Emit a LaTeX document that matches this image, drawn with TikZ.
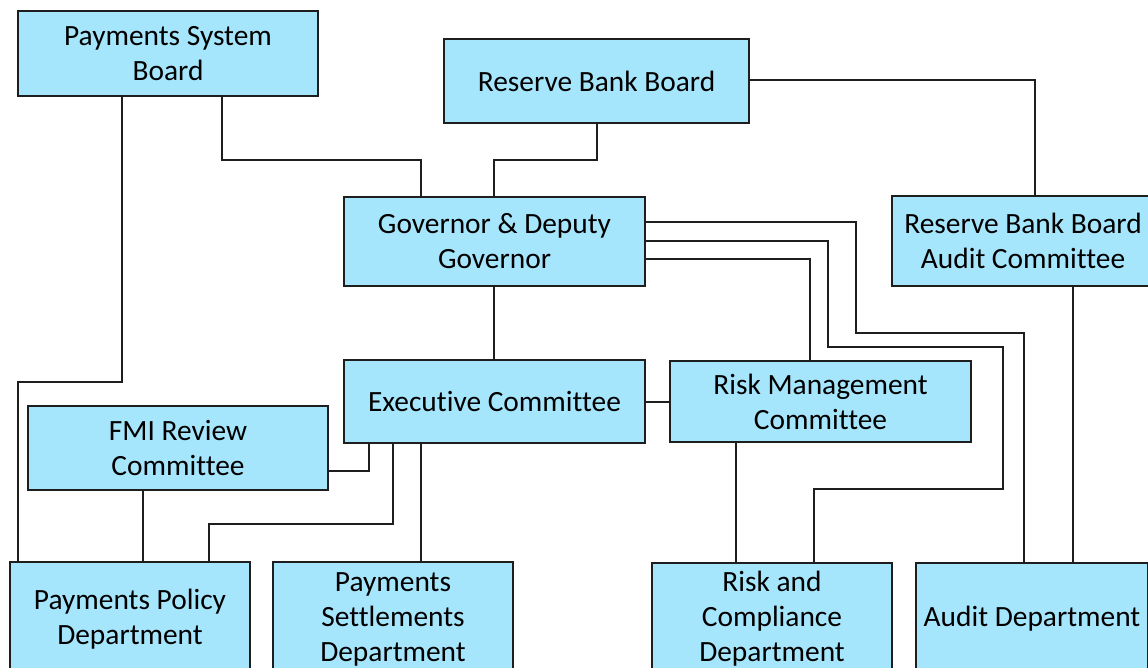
\documentclass[tikz,border=0pt]{standalone}
\usepackage{fontspec}
\setmainfont{Carlito}[Ligatures=NoCommon]
\definecolor{boxfill}{RGB}{166,230,253}
\definecolor{boxline}{RGB}{30,30,30}
\tikzset{
  orgbox/.style={draw=boxline, line width=1.4pt, fill=boxfill, rectangle, align=center,
    inner sep=0pt, font=\fontsize{29.4}{35}\selectfont, text=black},
  conn/.style={draw=boxline, line width=1.3pt}
}
\begin{document}
\begin{tikzpicture}[x=1pt,y=-1pt]
\useasboundingbox (0,0) rectangle (1148,668);
\fill[white] (0,0) rectangle (1148,668);
\clip (0,0) rectangle (1148,668);
% nodes
\node[orgbox, minimum width=300pt, minimum height=85pt] (psb) at (168,53.5) {Payments System\\Board};
\node[orgbox, minimum width=305pt, minimum height=84pt] (rbb) at (596.5,81) {Reserve Bank Board};
\node[orgbox, minimum width=301pt, minimum height=89pt] (gov) at (494.5,241.5) {Governor \& Deputy\\Governor};
\node[orgbox, minimum width=262pt, minimum height=90pt] (rbbac) at (1023,241) {Reserve Bank Board\\Audit Committee};
\node[orgbox, minimum width=301pt, minimum height=83pt] (exec) at (494.5,401.5) {Executive Committee};
\node[orgbox, minimum width=301pt, minimum height=81pt] (rmc) at (820.5,401.5) {Risk Management\\Committee};
\node[orgbox, minimum width=300pt, minimum height=84pt] (fmi) at (178,448) {FMI Review\\Committee};
\node[orgbox, minimum width=240pt, minimum height=114pt] (ppd) at (130,619) {Payments Policy\\Department};
\node[orgbox, minimum width=240pt, minimum height=114pt] (psd) at (393,619) {Payments\\Settlements\\Department};
\node[orgbox, minimum width=240pt, minimum height=112pt] (rcd) at (772,619) {Risk and\\Compliance\\Department};
\node[orgbox, minimum width=232pt, minimum height=112pt] (aud) at (1032,619) {Audit Department};
% connectors
\draw[conn] (222,0 |- psb.south) -- (222,160) -- (421,160) -- (421,0 |- gov.north);
\draw[conn] (597,0 |- rbb.south) -- (597,160) -- (494,160) -- (494,0 |- gov.north);
\draw[conn] (rbb.east |- 0,80) -- (1035,80) -- (1035,0 |- rbbac.north);
\draw[conn] (122,0 |- psb.south) -- (122,382) -- (18,382) -- (18,0 |- ppd.north);
\draw[conn] (494,0 |- gov.south) -- (494,0 |- exec.north);
\draw[conn] (gov.east |- 0,222) -- (856,222) -- (856,333) -- (1024,333) -- (1024,0 |- aud.north);
\draw[conn] (gov.east |- 0,241) -- (828,241) -- (828,347) -- (1003,347) -- (1003,489) -- (814,489) -- (814,0 |- rcd.north);
\draw[conn] (gov.east |- 0,259) -- (810,259) -- (810,0 |- rmc.north);
\draw[conn] (exec.east |- 0,402) -- (rmc.west |- 0,402);
\draw[conn] (369,0 |- exec.south) -- (369,471) -- (fmi.east |- 0,471);
\draw[conn] (393,0 |- exec.south) -- (393,524) -- (209,524) -- (209,0 |- ppd.north);
\draw[conn] (421,0 |- exec.south) -- (421,0 |- psd.north);
\draw[conn] (143,0 |- fmi.south) -- (143,0 |- ppd.north);
\draw[conn] (736,0 |- rmc.south) -- (736,0 |- rcd.north);
\draw[conn] (1073,0 |- rbbac.south) -- (1073,0 |- aud.north);
\end{tikzpicture}
\end{document}
